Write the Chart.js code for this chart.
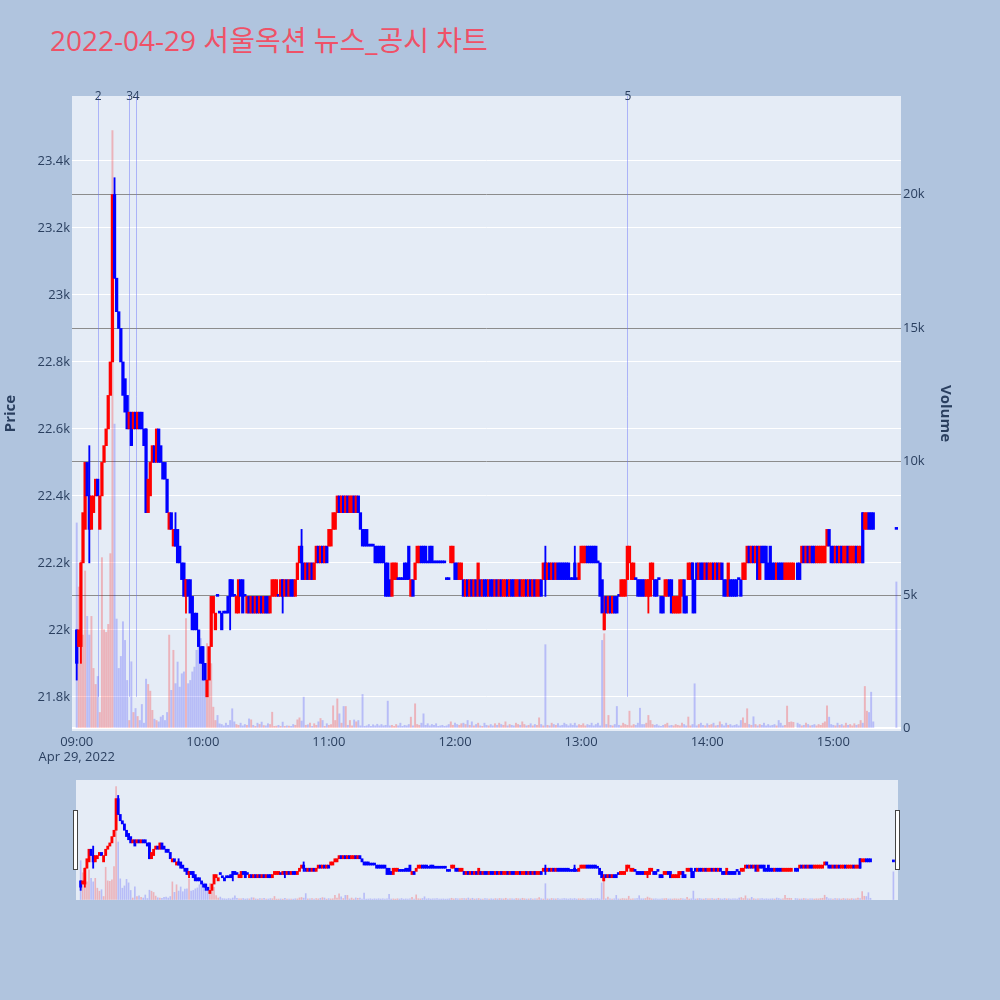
<!DOCTYPE html>
<html>
<head>
<meta charset="utf-8">
<script src="https://cdn.jsdelivr.net/npm/chart.js"></script>
<style>
  body { margin: 0; background: #b0c4de; width: 1000px; height: 1000px; position: relative; overflow: hidden; }
  #title { position: absolute; left: 50px; top: 26px; font-family: 'Open Sans', 'Noto Sans CJK KR', sans-serif; font-size: 28px; line-height: 28px; color: #ef5167; white-space: nowrap; }
  #main { position: absolute; left: 0; top: 0; }
  #slider { position: absolute; left: 76px; top: 780px; }
  .handle { position: absolute; top: 810px; width: 3px; height: 58px; background: #fff; border: 1px solid #444; }
</style>
</head>
<body>
<div id="title">2022-04-29 서울옥션 뉴스_공시 차트</div>
<canvas id="main" width="1000" height="775"></canvas>
<canvas id="slider" width="822" height="120"></canvas>
<div class="handle" style="left:73px"></div>
<div class="handle" style="left:895px"></div>
<script>
// 1-minute candles, index = minutes after 09:00 (null = no trade)
const opens = [
  22000,21950,21950,22200,22300,22500,22400,22300,22350,22400,
  22450,22300,22400,22500,22550,22600,22700,22800,23300,23050,
  22950,22900,22800,22750,22700,22600,22650,22600,22650,22600,
  22650,22650,22600,22600,22350,22400,22500,22550,22500,22600,
  22550,22500,22500,22450,22300,22350,22250,22300,22300,22250,
  22200,22200,22100,22150,22150,22100,22050,22050,22000,21950,
  21950,21900,21800,21850,21950,22050,22000,22100,22050,22050,
  22050,22050,22100,22150,22150,22100,22050,22050,22150,22150,
  22100,22050,22100,22050,22100,22050,22100,22050,22100,22050,
  22100,22100,22050,22100,22100,22100,22100,22100,22150,22100,
  22150,22100,22150,22150,22100,22150,22200,22250,22200,22150,
  22200,22150,22200,22150,22200,22250,22200,22250,22200,22250,
  22250,22250,22300,22300,22350,22400,22350,22400,22350,22400,
  22350,22350,22400,22350,22400,22350,22300,22300,22300,22250,
  22250,22250,22250,22250,22250,22250,22250,22200,22200,22150,
  22100,22150,22150,22150,22150,22150,22200,22200,22250,22100,
  22150,22150,22200,22200,22250,22250,22250,22200,22250,22250,
  22200,22200,22200,22200,22200,22200,22150,22150,22200,22200,
  22200,22200,22150,22150,22150,22100,22150,22100,22150,22100,
  22150,22100,22150,22100,22150,22150,22100,22150,22150,22100,
  22150,22100,22150,22100,22100,22150,22100,22150,22150,22100,
  22100,22150,22100,22100,22150,22100,22150,22100,22150,22100,
  22100,22150,22150,22200,22150,22200,22150,22200,22150,22200,
  22200,22200,22200,22200,22200,22150,22150,22200,22150,22150,
  22200,22200,22200,22250,22250,22250,22250,22250,22200,22200,
  22150,22000,22100,22050,22100,22050,22100,22100,22100,22100,
  22100,22100,22150,22200,22150,22150,22150,22150,22150,22150,
  22150,22100,22100,22100,22150,22150,22150,22150,22100,22100,
  22100,22100,22150,22150,22050,22050,22050,22050,22100,22150,
  22100,22150,22150,22200,22150,22200,22150,22200,22200,22150,
  22200,22150,22150,22200,22150,22200,22150,22200,22150,22150,
  22100,22150,22150,22150,22150,22150,22150,22150,22150,22200,
  22250,22200,22250,22200,22250,22150,22250,22250,22250,22200,
  22250,22200,22200,22150,22200,22200,22200,22150,22150,22150,
  22150,22150,null,22200,22200,22200,22250,22200,22250,22200,
  22250,22250,22200,22200,22200,22200,22200,22250,22300,22250,
  22250,22200,22250,22200,22250,22200,22200,22250,22200,22200,
  22200,22250,22200,22200,22350,22300,22300,22350,22350,22350,
  null,null,null,null,null,null,null,null,null,null,
  22300
];
const closes = [
  21900,22000,22200,22350,22500,22400,22300,22400,22400,22450,
  22400,22400,22500,22550,22600,22700,22800,23300,23050,22950,
  22900,22800,22700,22650,22600,22650,22550,22650,22600,22650,
  22600,22600,22550,22350,22450,22500,22550,22500,22600,22500,
  22500,22450,22450,22350,22350,22300,22300,22250,22200,22200,
  22150,22100,22150,22100,22050,22000,22000,22000,21950,21900,
  21900,21850,21850,21950,22100,22100,22050,22100,22050,22000,
  22050,22050,22050,22100,22100,22100,22100,22150,22100,22050,
  22100,22100,22050,22100,22050,22100,22050,22100,22050,22100,
  22050,22050,22100,22150,22150,22150,22100,22150,22100,22150,
  22100,22150,22100,22100,22150,22200,22250,22200,22150,22200,
  22150,22200,22150,22200,22250,22200,22250,22200,22250,22200,
  22300,22300,22350,22350,22400,22350,22400,22350,22400,22350,
  22400,22400,22350,22400,22350,22300,22250,22250,22250,22250,
  22250,22250,22200,22200,22200,22200,22200,22100,22100,22100,
  22200,22200,22200,22150,22150,22150,22150,22150,22150,22150,
  22100,22200,22250,22250,22200,22200,22200,22200,22200,22200,
  22200,22200,22200,22200,22200,22200,22150,22150,22250,22250,
  22150,22150,22200,22200,22100,22150,22100,22150,22100,22150,
  22100,22200,22100,22150,22100,22100,22150,22100,22100,22150,
  22100,22150,22100,22150,22150,22100,22150,22100,22100,22150,
  22150,22100,22150,22150,22100,22150,22100,22150,22100,22150,
  22150,22100,22200,22150,22200,22150,22200,22150,22200,22150,
  22150,22150,22150,22150,22150,22150,22150,22150,22150,22200,
  22250,22250,22250,22200,22200,22200,22200,22200,22200,22100,
  22050,22050,22050,22100,22050,22100,22050,22050,22100,22150,
  22150,22150,22250,22250,22200,22200,22150,22100,22100,22100,
  22100,22150,22150,22200,22200,22100,22100,22150,22050,22050,
  22150,22150,22100,22050,22100,22100,22100,22150,22150,22050,
  22050,22200,22200,22150,22050,22150,22200,22150,22150,22200,
  22150,22200,22200,22150,22200,22150,22200,22150,22100,22100,
  22200,22100,22100,22100,22100,22150,22100,22200,22200,22250,
  22200,22250,22200,22250,22150,22250,22200,22200,22150,22150,
  22150,22150,22150,22200,22150,22150,22150,22200,22200,22200,
  22200,22200,null,22150,22150,22250,22200,22250,22200,22250,
  22200,22200,22250,22250,22250,22250,22250,22300,22250,22200,
  22200,22250,22200,22250,22200,22250,22250,22200,22250,22250,
  22250,22200,22250,22250,22200,22350,22350,22300,22300,22300,
  null,null,null,null,null,null,null,null,null,null,
  22300
];
const volumes = [
  7700,5300,6300,3500,5900,4200,3500,4200,2250,1650,
  1950,600,6400,3700,3600,3900,6550,22400,11400,4100,
  2250,2700,4000,3300,1800,300,2500,600,750,450,
  300,900,200,1850,1650,1400,680,350,300,250,
  430,490,300,600,3500,1430,2930,1680,2490,1550,
  2050,2120,4120,1680,1800,2120,2300,2930,3180,3370,
  2430,1800,3180,2930,2430,800,300,490,175,150,
  100,200,120,300,740,250,150,120,200,100,
  150,120,360,325,120,80,200,150,240,110,
  100,180,150,610,80,90,120,80,240,80,
  100,90,80,150,120,325,400,280,1175,120,
  140,200,80,180,120,250,375,300,80,180,
  120,150,850,300,1110,550,200,825,825,120,
  300,100,320,250,300,100,1275,80,100,150,
  80,140,100,160,100,150,100,120,1025,100,
  120,80,150,100,200,80,120,100,150,425,
  100,925,150,120,200,550,120,180,100,150,
  120,180,80,100,120,80,100,150,250,120,
  200,150,120,180,200,150,300,120,250,100,
  150,200,100,80,200,120,100,150,100,180,
  120,200,150,120,250,100,150,120,100,200,
  150,120,250,150,100,120,180,100,150,120,
  400,150,100,3140,120,100,200,150,120,180,
  100,120,200,150,100,180,120,200,100,150,
  120,180,100,150,120,200,100,150,200,100,
  3300,3550,150,490,120,100,150,825,120,100,
  200,150,120,650,100,150,120,200,760,150,
  150,200,490,300,150,120,150,100,80,120,
  150,200,100,120,100,150,120,100,200,150,
  100,430,100,150,1675,100,150,200,120,100,
  180,120,150,200,100,120,250,150,100,200,
  120,150,100,120,150,100,300,400,200,740,
  150,120,440,150,100,150,120,200,100,150,
  100,120,150,100,300,200,100,120,840,230,
  250,230,null,200,150,100,120,200,150,100,
  120,150,100,150,120,200,250,850,425,150,
  120,100,200,120,150,100,200,120,150,100,
  180,120,150,300,200,1575,650,600,1360,250,
  null,null,null,null,null,null,null,null,null,null,
  5490
];
// wicks that reach beyond the body
const wickMinutes = [0, 2, 6, 18, 33, 47, 52, 60, 73, 98, 107, 223, 237, 251, 272, 293, 374];
const wickLows    = [21850,21900,22200,23050,22350,22250,22050,21850,22000,22050,22150,22100,22150,22000,22050,22050,22200];
const wickHighs   = [22000,22200,22550,23350,22600,22350,22150,21950,22150,22150,22300,22250,22250,22100,22150,22200,22350];

// news / disclosure markers
const newsMinutes = [10, 25, 28, 262];
const newsLabels = ['2', '3', '4', '5'];

const hourTicks = [0, 60, 120, 180, 240, 300, 360];
const hourLabels = ['09:00', '10:00', '11:00', '12:00', '13:00', '14:00', '15:00'];
const dateLabel = 'Apr 29, 2022';
const priceTicks = [21800, 22000, 22200, 22400, 22600, 22800, 23000, 23200, 23400];
const volumeTicks = [0, 5000, 10000, 15000, 20000];

const RED = '#ff0000', BLUE = '#0000ff';
const RED_T = 'rgba(255,0,0,0.24)', BLUE_T = 'rgba(0,0,255,0.2)';
const TXT = '#2a3f5f';

Chart.defaults.font.family = "'Open Sans', 'Noto Sans CJK KR', sans-serif";
Chart.defaults.font.size = 13;
Chart.defaults.color = TXT;

const candlePts = [], candleCols = [], volPts = [], volCols = [];
opens.forEach(function (o, m) {
  if (o == null) return;
  const up = closes[m] > o;
  candlePts.push({ x: m, y: [o, closes[m]] });
  candleCols.push(up ? RED : BLUE);
  volPts.push({ x: m, y: volumes[m] });
  volCols.push(up ? RED_T : BLUE_T);
});
const wickPts = wickMinutes.map((m, i) => ({ x: m, y: [wickLows[i], wickHighs[i]] }));
const wickCols = wickMinutes.map(m => closes[m] > opens[m] ? RED : BLUE);

function makeDatasets(bodyW, volW) {
  return [
    { data: candlePts, backgroundColor: candleCols, yAxisID: 'y', barThickness: bodyW, minBarLength: 2, grouped: false, order: 1 },
    { data: wickPts, backgroundColor: wickCols, yAxisID: 'y', barThickness: 1.2, grouped: false, order: 2 },
    { data: volPts, backgroundColor: volCols, yAxisID: 'yv', barThickness: volW, grouped: false, order: 3 }
  ];
}

const plotBg = {
  id: 'plotBg',
  beforeDraw(chart) {
    const a = chart.chartArea, c = chart.ctx;
    c.save();
    c.fillStyle = '#e5ecf6';
    c.fillRect(a.left, a.top, a.right - a.left, a.bottom - a.top);
    c.restore();
  }
};

const newsLines = {
  id: 'newsLines',
  beforeDatasetsDraw(chart) {
    const c = chart.ctx, x = chart.scales.x, y = chart.scales.y, top = chart.chartArea.top;
    c.save();
    c.strokeStyle = 'rgba(99,110,250,0.45)';
    c.lineWidth = 1;
    newsMinutes.forEach(function (m) {
      const px = Math.round(x.getPixelForValue(m)) + 0.5;
      c.beginPath();
      c.moveTo(px, top);
      c.lineTo(px, y.getPixelForValue(21800));
      c.stroke();
    });
    c.restore();
  },
  afterDraw(chart) {
    const c = chart.ctx, x = chart.scales.x, top = chart.chartArea.top;
    c.save();
    c.fillStyle = TXT;
    c.font = "12px 'Open Sans', sans-serif";
    c.textAlign = 'center';
    c.textBaseline = 'middle';
    newsMinutes.forEach(function (m, i) {
      c.fillText(newsLabels[i], x.getPixelForValue(m) + 0.5, top + 1);
    });
    c.restore();
  }
};

new Chart(document.getElementById('main'), {
  type: 'bar',
  data: { datasets: makeDatasets(2.6, 1.3) },
  options: {
    responsive: false,
    animation: false,
    layout: { padding: { top: 96, right: 46, left: 0, bottom: 0 } },
    plugins: { legend: { display: false }, tooltip: { enabled: false } },
    scales: {
      x: {
        type: 'linear', min: -2.24, max: 392.2, offset: false,
        grid: { display: false, drawTicks: false }, border: { display: false },
        afterBuildTicks: s => { s.ticks = hourTicks.map(v => ({ value: v })); },
        ticks: {
          autoSkip: false, maxRotation: 0, padding: 3,
          callback: v => v === 0 ? [hourLabels[0], dateLabel] : hourLabels[hourTicks.indexOf(v)]
        },
        afterFit: s => { s.height = 44; }
      },
      y: {
        position: 'left', min: 21698, max: 23594,
        afterBuildTicks: s => { s.ticks = priceTicks.map(v => ({ value: v })); },
        grid: { color: '#ffffff', drawTicks: false }, border: { display: false },
        ticks: { padding: 2, callback: v => (v / 1000) + 'k' },
        title: { display: true, text: 'Price', font: { size: 15, weight: 'bold' }, padding: { top: 2, bottom: 0 } },
        afterFit: s => { s.width = 72; }
      },
      yv: {
        position: 'right', min: -94, max: 23692,
        afterBuildTicks: s => { s.ticks = volumeTicks.map(v => ({ value: v })); },
        grid: {
          drawTicks: false,
          color: ctx => ctx.tick && ctx.tick.value === 0 ? '#ffffff' : '#8c8c8c',
          lineWidth: ctx => ctx.tick && ctx.tick.value === 0 ? 2 : 1
        },
        border: { display: false },
        ticks: { padding: 2, callback: v => v === 0 ? '0' : (v / 1000) + 'k' },
        title: { display: true, text: 'Volume', font: { size: 15, weight: 'bold' }, padding: 0 },
        afterFit: s => { s.width = 53; }
      }
    }
  },
  plugins: [plotBg, newsLines]
});

// range slider preview
new Chart(document.getElementById('slider'), {
  type: 'bar',
  data: { datasets: makeDatasets(2.2, 1) },
  options: {
    responsive: false,
    animation: false,
    layout: { padding: 0 },
    plugins: { legend: { display: false }, tooltip: { enabled: false } },
    scales: {
      x: { type: 'linear', min: -2.24, max: 392.2, offset: false, display: false },
      y: { min: 21698, max: 23594, display: false },
      yv: { min: -94, max: 23692, display: false }
    }
  },
  plugins: [plotBg]
});
</script>
</body>
</html>
